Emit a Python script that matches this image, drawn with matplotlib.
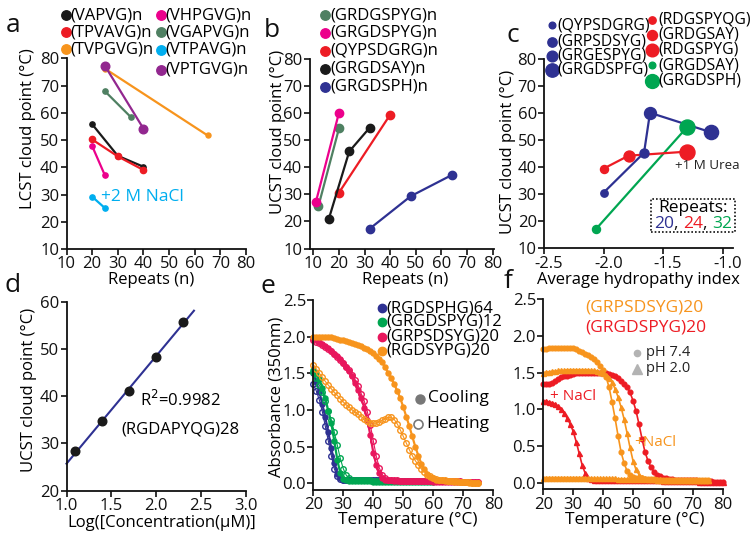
import numpy as np
import matplotlib
matplotlib.use('Agg')
import matplotlib.pyplot as plt
from matplotlib.lines import Line2D
from matplotlib.patches import Rectangle
from matplotlib.ticker import FuncFormatter
from matplotlib.transforms import ScaledTranslation

plt.rcParams['font.family'] = ['Open Sans', 'DejaVu Sans']

W, H = 754, 540

# ---------------- colours ----------------
BLACK = '#1a1a1a'
RED = '#ed1c24'
ORANGE = '#f7941d'
MAGENTA = '#ec008c'
SAGE = '#4f8062'
CYAN = '#00aeef'
PURPLE = '#92278f'
NAVY = '#2e3192'
GREEN = '#00a651'
PINK = '#e8175d'

# ---------------- panel a data ----------------
a_labels = ['(VAPVG)n', '(TPVAVG)n', '(TVPGVG)n', '(VHPGVG)n', '(VGAPVG)n', '(VTPAVG)n', '(VPTGVG)n']
a_colors = [BLACK, RED, ORANGE, MAGENTA, SAGE, CYAN, PURPLE]
a_repeats = [[20, 30, 40], [20, 30, 40], [25, 65], [20, 25], [25, 35], [20, 25], [25, 40]]
a_lcst = [[55.8, 44.2, 40.2], [50.2, 44.0, 39.0], [76.2, 51.7], [47.8, 37.0], [67.9, 58.5], [29.2, 25.0], [77.2, 54.2]]
a_msize = [3.8, 4.5, 3.6, 3.8, 3.8, 3.8, 6.2]

# ---------------- panel b data ----------------
b_labels = ['(GRDGSPYG)n', '(GRGDSPYG)n', '(QYPSDGRG)n', '(GRGDSAY)n', '(GRGDSPH)n']
b_colors = [SAGE, MAGENTA, RED, BLACK, NAVY]
b_repeats = [[12, 20], [11, 20], [20, 40], [16, 24, 32], [32, 48, 64]]
b_ucst = [[25.7, 54.3], [27.2, 60.1], [30.6, 59.4], [20.8, 45.8, 54.6], [17.3, 29.3, 37.1]]

# ---------------- panel c data ----------------
c_blue_x = [-2.00, -1.66, -1.61, -1.10]
c_blue_y = [30.6, 45.4, 60.2, 53.0]
c_blue_ms = [5.3, 6.5, 8.6, 10.2]
c_red_x = [-2.00, -1.79, -1.30]
c_red_y = [39.5, 44.3, 45.8]
c_red_ms = [5.8, 7.9, 10.8]
c_green_x = [-2.06, -1.30]
c_green_y = [17.3, 54.8]
c_green_ms = [5.8, 10.8]
c_leg_blue = ['(QYPSDGRG)', '(GRPSDSYG)', '(GRGESPYG)', '(GRGDSPFG)']
c_leg_blue_ms = [4.8, 6.7, 7.7, 9.6]
c_leg_rg = ['(RDGSPYQG)', '(GRDGSAY)', '(RDGSPYG)', '(GRGDSAY)', '(GRGDSPH)']
c_leg_rg_col = [RED, RED, RED, GREEN, GREEN]
c_leg_rg_ms = [5.3, 7.2, 9.1, 4.8, 10.0]
c_repeat_labels = ['20', '24', '32']
c_repeat_colors = [NAVY, RED, GREEN]

# ---------------- panel d data ----------------
d_logc = [1.1, 1.4, 1.7, 2.0, 2.3]
d_ucst = [28.4, 34.8, 41.0, 48.4, 55.8]

# ---------------- panel e data (T from 20 C, 1 C steps) ----------------
e_labels = ['(RGDSPHG)64', '(GRGDSPYG)12', '(GRPSDSYG)20', '(RGDSYPG)20']
e_colors = [NAVY, GREEN, PINK, ORANGE]
e_blue_cool = [1.50, 1.38, 1.25, 1.08, 0.90, 0.70, 0.48, 0.28, 0.13, 0.07,
               0.05, 0.05, 0.05, 0.05, 0.05, 0.05, 0.04, 0.04, 0.04, 0.04,
               0.04, 0.04, 0.04, 0.04, 0.04, 0.03, 0.03, 0.03, 0.03, 0.03,
               0.03, 0.03, 0.03, 0.03, 0.03, 0.03, 0.03, 0.03, 0.03, 0.03, 0.03]
e_blue_heat = [1.35, 1.26, 1.14, 0.98, 0.78, 0.58, 0.38, 0.20, 0.10, 0.06,
               0.05, 0.05, 0.05, 0.05, 0.04, 0.04, 0.04, 0.04, 0.04, 0.04,
               0.04, 0.04, 0.04, 0.03, 0.03, 0.03, 0.03, 0.03, 0.03, 0.03,
               0.03, 0.03, 0.03, 0.03, 0.03, 0.03, 0.03, 0.03, 0.03, 0.03, 0.03]
e_green_cool = [1.55, 1.50, 1.42, 1.30, 1.16, 0.99, 0.82, 0.58, 0.32, 0.14,
                0.06, 0.04, 0.03, 0.03, 0.03, 0.03, 0.03, 0.03, 0.03, 0.03,
                0.02, 0.02, 0.02, 0.02, 0.02, 0.02, 0.02, 0.02, 0.02, 0.02,
                0.02, 0.02, 0.02, 0.02, 0.02, 0.02, 0.02, 0.02, 0.02, 0.02, 0.02]
e_green_heat = [1.52, 1.44, 1.34, 1.24, 1.12, 0.99, 0.86, 0.70, 0.52, 0.34,
                0.20, 0.11, 0.07, 0.05, 0.05, 0.04, 0.04, 0.04, 0.04, 0.04,
                0.03, 0.03, 0.03, 0.03, 0.03, 0.03, 0.03, 0.03, 0.03, 0.03,
                0.03, 0.03, 0.03, 0.03, 0.03, 0.03, 0.03, 0.03, 0.03, 0.03, 0.03]
e_pink_cool = [1.97, 1.95, 1.93, 1.90, 1.87, 1.84, 1.81, 1.77, 1.73, 1.69,
               1.64, 1.59, 1.53, 1.46, 1.37, 1.27, 1.16, 1.03, 0.87, 0.66,
               0.42, 0.25, 0.14, 0.08, 0.05, 0.04, 0.04, 0.03, 0.03, 0.03,
               0.03, 0.03, 0.03, 0.03, 0.03, 0.03, 0.03, 0.03, 0.03, 0.03,
               0.02, 0.02, 0.02, 0.02, 0.02, 0.02, 0.02, 0.02, 0.02, 0.02,
               0.02, 0.02, 0.02, 0.02, 0.02, 0.02]
e_pink_heat = [1.95, 1.93, 1.91, 1.88, 1.86, 1.83, 1.80, 1.76, 1.72, 1.68,
               1.64, 1.59, 1.54, 1.48, 1.41, 1.33, 1.22, 1.12, 0.98, 0.80,
               0.58, 0.37, 0.21, 0.12, 0.07, 0.05, 0.04, 0.04, 0.04, 0.03,
               0.03, 0.03, 0.03, 0.03, 0.03, 0.03, 0.03, 0.03, 0.03, 0.03,
               0.03, 0.03, 0.03, 0.03, 0.03, 0.03, 0.03, 0.03, 0.03, 0.03,
               0.02, 0.02, 0.02, 0.02, 0.02, 0.02]
e_orange_cool = [2.00, 2.00, 2.00, 2.00, 2.00, 1.99, 1.99, 1.98, 1.97, 1.96,
                 1.95, 1.94, 1.93, 1.92, 1.90, 1.89, 1.87, 1.85, 1.83, 1.80,
                 1.78, 1.74, 1.70, 1.65, 1.58, 1.50, 1.43, 1.35, 1.26, 1.16,
                 1.04, 0.91, 0.78, 0.64, 0.50, 0.38, 0.27, 0.19, 0.13, 0.09,
                 0.07, 0.05, 0.04, 0.04, 0.03, 0.03, 0.03, 0.02, 0.02, 0.02,
                 0.02, 0.02, 0.01, 0.01, 0.01, 0.01]
e_orange_heat = [1.62, 1.56, 1.50, 1.45, 1.39, 1.34, 1.29, 1.24, 1.20, 1.15,
                 1.11, 1.07, 1.04, 1.00, 0.97, 0.94, 0.91, 0.88, 0.85, 0.83,
                 0.82, 0.82, 0.84, 0.86, 0.88, 0.90, 0.90, 0.87, 0.81, 0.73,
                 0.64, 0.55, 0.46, 0.38, 0.31, 0.25, 0.20, 0.16, 0.12, 0.10,
                 0.08, 0.06, 0.05, 0.04, 0.04, 0.03, 0.03, 0.03, 0.03, 0.02,
                 0.02, 0.02, 0.02, 0.01, 0.01, 0.01]

# ---------------- panel f data (T from 20 C, 1 C steps) ----------------
f_orange_ph74 = [1.82, 1.82, 1.83, 1.83, 1.83, 1.83, 1.84, 1.84, 1.84, 1.83,
                 1.83, 1.82, 1.80, 1.78, 1.76, 1.74, 1.71, 1.68, 1.64, 1.59,
                 1.53, 1.44, 1.30, 1.10, 0.88, 0.64, 0.42, 0.27, 0.16, 0.11,
                 0.08, 0.07, 0.06, 0.06, 0.05, 0.05, 0.05, 0.05, 0.04, 0.04,
                 0.04, 0.04, 0.04, 0.04, 0.04, 0.04, 0.03, 0.03, 0.03, 0.03,
                 0.03, 0.03, 0.03, 0.03, 0.03, 0.03]
f_orange_ph20 = [1.50, 1.51, 1.51, 1.52, 1.52, 1.53, 1.53, 1.53, 1.54, 1.54,
                 1.54, 1.54, 1.54, 1.54, 1.54, 1.54, 1.53, 1.53, 1.52, 1.51,
                 1.50, 1.47, 1.43, 1.37, 1.28, 1.17, 1.03, 0.87, 0.68, 0.48,
                 0.30, 0.18, 0.11, 0.08, 0.06, 0.05, 0.05, 0.05, 0.04, 0.04,
                 0.04, 0.04, 0.04, 0.04, 0.04, 0.04, 0.04, 0.04, 0.04, 0.04,
                 0.03, 0.03, 0.03, 0.03, 0.03, 0.03]
f_orange_nacl = [0.07, 0.07, 0.07, 0.07, 0.07, 0.07, 0.07, 0.07, 0.07, 0.07,
                 0.07, 0.07, 0.07, 0.07, 0.07, 0.06, 0.06, 0.06, 0.06, 0.06,
                 0.06, 0.06, 0.06, 0.06, 0.06, 0.05, 0.05, 0.05, 0.05, 0.05,
                 0.05, 0.05, 0.05, 0.05, 0.05, 0.05, 0.05, 0.05, 0.05, 0.05,
                 0.04, 0.04, 0.04, 0.04, 0.04, 0.04, 0.04, 0.04, 0.04, 0.04,
                 0.04, 0.04, 0.04, 0.04, 0.04, 0.04]
f_red_ph74 = [1.34, 1.34, 1.35, 1.36, 1.39, 1.42, 1.44, 1.45, 1.46, 1.47,
              1.48, 1.49, 1.50, 1.50, 1.50, 1.50, 1.50, 1.50, 1.50, 1.50,
              1.50, 1.49, 1.48, 1.47, 1.45, 1.43, 1.39, 1.35, 1.30, 1.23,
              1.12, 0.98, 0.80, 0.60, 0.42, 0.30, 0.21, 0.15, 0.11, 0.09,
              0.07, 0.06, 0.05, 0.05, 0.04, 0.04, 0.04, 0.03, 0.03, 0.03,
              0.03, 0.03, 0.02, 0.02, 0.02, 0.02, 0.02, 0.01, 0.01, 0.01, 0.01]
f_red_nacl = [1.12, 1.11, 1.10, 1.09, 1.07, 1.04, 1.00, 0.95, 0.88, 0.80,
              0.70, 0.56, 0.40, 0.24, 0.13, 0.07, 0.05, 0.04, 0.04, 0.04,
              0.03, 0.03, 0.03, 0.03, 0.03, 0.03, 0.03, 0.03, 0.03, 0.03,
              0.03, 0.03, 0.03, 0.03, 0.03, 0.03, 0.03, 0.03, 0.03, 0.03,
              0.02, 0.02, 0.02, 0.02, 0.02, 0.02, 0.02, 0.02, 0.02, 0.02,
              0.02, 0.02, 0.01, 0.01, 0.01, 0.01, 0.01, 0.01, 0.01, 0.01, 0.01]
T0 = 20

# ---------------- figure ----------------
fig = plt.figure(figsize=(W / 100, H / 100), dpi=100)
renderer = fig.canvas.get_renderer()


def add_ax(left, top, right, bottom):
    return fig.add_axes([left / W, 1 - bottom / H, (right - left) / W, (bottom - top) / H])


def style(ax, xlim, ylim, xticks, yticks, xfmt=None, yfmt=None):
    ax.set_xlim(*xlim)
    ax.set_ylim(*ylim)
    ax.set_xticks(xticks)
    ax.set_yticks(yticks)
    if xfmt:
        ax.xaxis.set_major_formatter(FuncFormatter(xfmt))
    if yfmt:
        ax.yaxis.set_major_formatter(FuncFormatter(yfmt))
    for s in ('top', 'right'):
        ax.spines[s].set_visible(False)
    for s in ('left', 'bottom'):
        ax.spines[s].set_linewidth(1.3)
        ax.spines[s].set_color('#111111')
    ax.tick_params(direction='out', length=4, width=1.2, labelsize=12, pad=1.2, colors='#111111')
    ax.patch.set_alpha(0)


def ftxt(x, y, s, **kw):
    kw.setdefault('va', 'center')
    kw.setdefault('ha', 'left')
    return fig.text(x / W, 1 - y / H, s, **kw)


def fmark(x, y, **kw):
    fig.add_artist(Line2D([x / W], [1 - y / H], transform=fig.transFigure, ls='none', **kw))


def text_width(s, size):
    t = fig.text(0, 0, s + '|', fontsize=size)
    w1 = t.get_window_extent(renderer=renderer).width
    t.set_text('|')
    w2 = t.get_window_extent(renderer=renderer).width
    t.remove()
    return w1 - w2


def seq_text(xc, y, parts, size):
    full = ''.join(p for p, _ in parts)
    x0 = xc - text_width(full, size) / 2
    prefix = ''
    for p, c in parts:
        ftxt(x0 + text_width(prefix, size), y, p, color=c, fontsize=size)
        prefix += p


int_fmt = lambda v, p: f'{v:.0f}'
one_fmt = lambda v, p: f'{v:.1f}'

# ---- panel a ----
axa = add_ax(66.5, 58.3, 246, 249)
style(axa, (10, 80), (10, 80), range(10, 81, 10), range(10, 81, 10), int_fmt, int_fmt)
for xs, ys, c, ms in zip(a_repeats, a_lcst, a_colors, a_msize):
    axa.plot(xs, ys, '-o', color=c, lw=1.6, ms=ms, clip_on=False)
ftxt(101, 197, '+2 M NaCl', color=CYAN, fontsize=12.5)
for i in range(3):
    fmark(65.7, 15 + i * 17.2, marker='o', color=a_colors[i], ms=6.8)
    ftxt(70, 15 + i * 17.2, a_labels[i], fontsize=12)
for i in range(4):
    y = [15, 32.3, 49.5, 70][i]
    fmark(160.7, y, marker='o', color=a_colors[3 + i], ms=6.8)
    ftxt(165, y, a_labels[3 + i], fontsize=12)
ftxt(28, 129, 'LCST cloud point (°C)', rotation=90, ha='center', fontsize=12)
ftxt(151, 280, 'Repeats (n)', ha='center', fontsize=12)

# ---- panel b ----
axb = add_ax(309.5, 58.8, 494, 248.5)
style(axb, (8.5, 80.5), (10, 80), range(10, 81, 10), range(10, 81, 10), int_fmt, int_fmt)
for xs, ys, c in zip(b_repeats, b_ucst, b_colors):
    axb.plot(xs, ys, '-o', color=c, lw=1.6, ms=6.0, clip_on=False)
for i, (lab, c) in enumerate(zip(b_labels, b_colors)):
    y = 15 + i * 17.9
    fmark(325, y, marker='o', color=c, ms=6.8)
    ftxt(330.5, y, lab, fontsize=12)
ftxt(277.5, 132, 'UCST cloud point (°C)', rotation=90, ha='center', fontsize=12)
ftxt(405, 280, 'Repeats (n)', ha='center', fontsize=12)

# ---- panel c ----
axc = add_ax(544, 59.3, 733, 248.3)
style(axc, (-2.5, -2.5 + 189 / 119.1), (10, 80), [-2.5, -2.0, -1.5, -1.0], range(10, 81, 10), one_fmt, int_fmt)
for lab in axc.get_xticklabels():
    lab.set_transform(lab.get_transform() + ScaledTranslation(5 / 100, 0, fig.dpi_scale_trans))
axc.plot(c_blue_x, c_blue_y, '-', color=NAVY, lw=1.6, zorder=2)
axc.plot(c_red_x, c_red_y, '-', color=RED, lw=1.6, zorder=2)
axc.plot(c_green_x, c_green_y, '-', color=GREEN, lw=1.6, zorder=1)
for xs, ys, mss, c in ((c_blue_x, c_blue_y, c_blue_ms, NAVY), (c_red_x, c_red_y, c_red_ms, RED),
                       (c_green_x, c_green_y, c_green_ms, GREEN)):
    for x, y, ms in zip(xs, ys, mss):
        axc.plot([x], [y], 'o', color=c, ms=ms, zorder=3)
axc.text(-1.40, 40.5, '+1 M Urea', fontsize=9.6, ha='left', va='center', color='#222222')
ftxt(508.5, 152, 'UCST cloud point (°C)', rotation=90, ha='center', fontsize=12)
ftxt(638.5, 280, 'Average hydropathy index', ha='center', fontsize=12)
for i, (lab, ms) in enumerate(zip(c_leg_blue, c_leg_blue_ms)):
    y = [25, 41.5, 55.5, 70][i]
    fmark(551.5, y, marker='o', color=NAVY, ms=ms)
    ftxt(557.5, y, lab, fontsize=11.3)
for i, (lab, c, ms) in enumerate(zip(c_leg_rg, c_leg_rg_col, c_leg_rg_ms)):
    y = [20, 34.5, 49.5, 65, 80.5][i]
    fmark(651.7, y, marker='o', color=c, ms=ms)
    ftxt(658, y, lab, fontsize=11.3)
fig.add_artist(Rectangle((650.7 / W, 1 - 232 / H), (735 - 650.7) / W, (232 - 199.5) / H,
                         transform=fig.transFigure, fill=False, ls=(0, (1, 1.2)), lw=1.2, ec='#111111'))
ftxt(693, 208.5, 'Repeats:', ha='center', fontsize=12.5)
rep_parts = []
for i, (s, c) in enumerate(zip(c_repeat_labels, c_repeat_colors)):
    rep_parts.append((s, c))
    if i < len(c_repeat_labels) - 1:
        rep_parts.append((', ', '#111111'))
seq_text(693, 223.5, rep_parts, 12.5)

# ---- panel d ----
axd = add_ax(66.5, 301.7, 246, 490.7)
style(axd, (1.0, 3.0), (20, 60), [1.0, 1.5, 2.0, 2.5, 3.0], [20, 30, 40, 50, 60], one_fmt, int_fmt)
slope, icpt = np.polyfit(d_logc, d_ucst, 1)
xl = np.array([1.0, 2.42])
axd.plot(xl, slope * xl + icpt, '-', color=NAVY, lw=1.5, clip_on=False)
axd.plot(d_logc, d_ucst, 'o', color=BLACK, ms=6.2, zorder=3)
ftxt(140, 400, 'R$^{2}$=0.9982', fontsize=12)
ftxt(121.5, 430, '(RGDAPYQG)28', fontsize=12)
ftxt(29, 390, 'UCST cloud point (°C)', rotation=90, ha='center', fontsize=12)
ftxt(162, 523, 'Log([Concentration(μM)]', ha='center', fontsize=12)

# ---- panel e ----
axe = add_ax(313.3, 300, 493.3, 490)
style(axe, (20, 80), (-0.09, 2.5), range(20, 81, 10), [0, 0.5, 1.0, 1.5, 2.0, 2.5], int_fmt, one_fmt)
e_pairs = [(e_blue_cool, e_blue_heat, NAVY), (e_green_cool, e_green_heat, GREEN),
           (e_pink_cool, e_pink_heat, PINK), (e_orange_cool, e_orange_heat, ORANGE)]
for cool, heat, c in e_pairs:
    tc = T0 + np.arange(len(cool))
    th = T0 + np.arange(len(heat))
    axe.plot(th, heat, '-', color=c, lw=0.8, marker='o', mfc='none', mec=c, mew=1.0, ms=4.0, clip_on=False)
    axe.plot(tc, cool, '-', color=c, lw=1.6, marker='o', ms=3.6, clip_on=False)
for i, (lab, c) in enumerate(zip(e_labels, e_colors)):
    y = [308.3, 322, 336.5, 350.5][i]
    fmark(381.7, y, marker='o', color=c, ms=6.0)
    ftxt(386, y, lab, fontsize=12)
fmark(420, 398.5, marker='o', color='#777777', ms=6.5)
ftxt(428, 398.5, 'Cooling', fontsize=12.5)
fmark(418, 423.5, marker='o', mfc='none', mec='#777777', mew=1.2, ms=6.5)
ftxt(426, 423.5, 'Heating', fontsize=12.5)
ftxt(276.5, 397, 'Absorbance (350nm)', rotation=90, ha='center', fontsize=12)
ftxt(408, 520.5, 'Temperature (°C)', ha='center', fontsize=12.5)

# ---- panel f ----
axf = add_ax(543.3, 299.3, 722.7, 489.3)
style(axf, (20, 80), (-0.09, 2.5), range(20, 81, 10), [0, 0.5, 1.0, 1.5, 2.0, 2.5], int_fmt, one_fmt)
for vals, c, mk, ms in ((f_red_nacl, RED, '^', 3.6), (f_red_ph74, RED, 'o', 3.4),
                        (f_orange_nacl, ORANGE, '^', 3.6), (f_orange_ph20, ORANGE, '^', 3.6),
                        (f_orange_ph74, ORANGE, 'o', 3.4)):
    t = T0 + np.arange(len(vals))
    axf.plot(t, vals, '-', color=c, lw=1.2, marker=mk, ms=ms, clip_on=False)
ftxt(585, 308, '(GRPSDSYG)20', color=ORANGE, fontsize=12.5)
ftxt(585, 328, '(GRGDSPYG)20', color=RED, fontsize=12.5)
fmark(637, 353, marker='o', color='#b3b3b3', ms=4.5)
ftxt(646, 353, 'pH 7.4', fontsize=10.5, color='#222222')
fmark(637, 369, marker='^', color='#b3b3b3', ms=6.5)
ftxt(646, 369, 'pH 2.0', fontsize=10.5, color='#222222')
ftxt(550, 397, '+ NaCl', color=RED, fontsize=11)
ftxt(634, 442, '+NaCl', color=ORANGE, fontsize=11)
ftxt(635, 520.5, 'Temperature (°C)', ha='center', fontsize=12.5)

# ---- panel letters ----
for s, x, y in (('a', 6, 32), ('b', 264, 36.7), ('c', 506, 41.7), ('d', 4, 291.7), ('e', 261, 293.3), ('f', 504, 288.3)):
    ftxt(x, y, s, fontsize=19, va='baseline', color='#111111')

fig.savefig('out.png', dpi=100)
